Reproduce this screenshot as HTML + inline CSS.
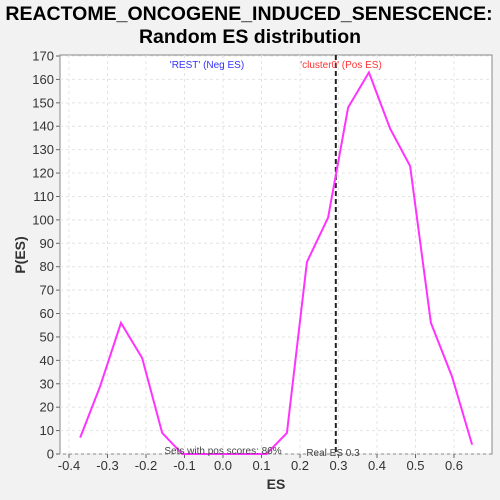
<!DOCTYPE html>
<html><head><style>
body{margin:0;background:#f2f2f2;}
svg{display:block;font-family:"Liberation Sans",sans-serif;}
</style></head><body>
<svg width="500" height="500">
<rect x="0" y="0" width="500" height="500" fill="#f2f2f2"/>
<text x="249" y="20" text-anchor="middle" font-size="19.5" font-weight="bold">REACTOME_ONCOGENE_INDUCED_SENESCENCE:</text>
<text x="250" y="43" text-anchor="middle" font-size="19.5" font-weight="bold">Random ES distribution</text>
<rect x="60" y="55" width="432" height="399" fill="#fff" stroke="#888"/>
<g id="grid"></g><g id="axes"></g><g id="series"></g>
<text x="207" y="68" text-anchor="middle" font-size="10" fill="#3333ff">'REST' (Neg ES)</text>
<text x="341" y="68" text-anchor="middle" font-size="10" fill="#ff3333">'cluster0' (Pos ES)</text>
<text x="223" y="454" text-anchor="middle" font-size="10" fill="#444">Sets with pos scores: 86%</text>
<text x="333" y="456" text-anchor="middle" font-size="10" fill="#444">Real ES 0.3</text>
<text x="276" y="489" text-anchor="middle" font-size="14" font-weight="bold" fill="#333">ES</text>
<text x="25" y="255" text-anchor="middle" font-size="14" font-weight="bold" fill="#333" transform="rotate(-90 25 255)">P(ES)</text>
</svg>
<script>
const xs=[-0.371,-0.319,-0.265,-0.21,-0.158,-0.106,-0.053,0.0,0.061,0.113,0.166,0.218,0.273,0.325,0.379,0.434,0.486,0.54,0.595,0.647];
const ys=[7,29,56,41,9,0,0,0,0,0,9,82,101,148,163,139,123,56,33,4];
const xTicks=[-0.4,-0.3,-0.2,-0.1,0.0,0.1,0.2,0.3,0.4,0.5,0.6];
const yTicks=[0,10,20,30,40,50,60,70,80,90,100,110,120,130,140,150,160,170];
const realES=0.293;
const X=v=>69+(v+0.4)*385, Y=v=>454-v*(398/170);
const NS="http://www.w3.org/2000/svg";
function mk(t,a,p,txt){const e=document.createElementNS(NS,t);for(const k in a)e.setAttribute(k,a[k]);if(txt!==undefined)e.textContent=txt;document.getElementById(p).appendChild(e);return e;}
yTicks.forEach(v=>{
 const g=mk('line',{x1:60,x2:492,y1:Y(v),y2:Y(v),stroke:'#e4e4e4','stroke-dasharray':'3,3'},'grid');
 
 
 const t=mk('line',{x1:56,x2:60,y1:Y(v),y2:Y(v),stroke:'#666'},'axes');
 
 
 const l=mk('text',{x:54,y:Y(v)+4.5,'text-anchor':'end','font-size':13,fill:'#333'},'axes',v);
 
 
});
xTicks.forEach(v=>{
 const g=mk('line',{x1:X(v),x2:X(v),y1:55,y2:454,stroke:'#e4e4e4','stroke-dasharray':'3,3'},'grid');
 
 
 const t=mk('line',{x1:X(v),x2:X(v),y1:454,y2:458,stroke:'#666'},'axes');
 
 
 const l=mk('text',{x:X(v),y:470,'text-anchor':'middle','font-size':13,fill:'#333'},'axes',v.toFixed(1));
 
 
});
const rl=mk('line',{x1:X(realES),x2:X(realES),y1:55,y2:454,stroke:'#222','stroke-width':2,'stroke-dasharray':'5,3'},'series');


const pl=mk('polyline',{points:xs.map((x,i)=>X(x)+','+Y(ys[i])).join(' '),fill:'none',stroke:'#ff33ff','stroke-width':2},'series');


</script>
</body></html>
